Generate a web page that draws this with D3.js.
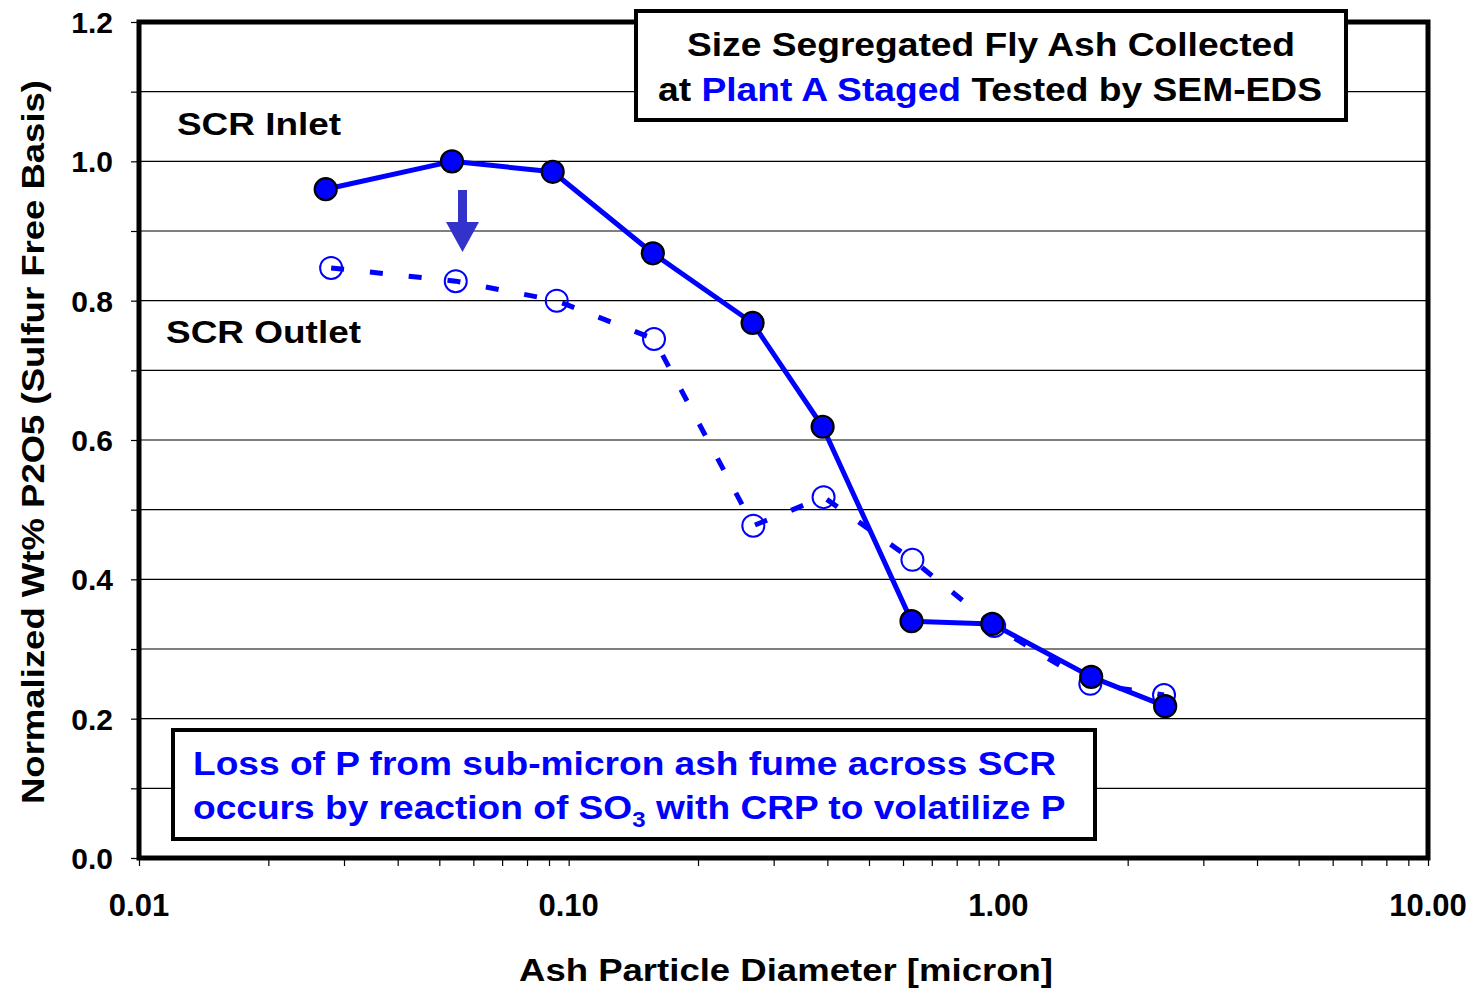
<!DOCTYPE html>
<html><head><meta charset="utf-8">
<script src="https://cdn.jsdelivr.net/npm/d3@7"></script>
<style>body{margin:0;background:#fff}svg{display:block}text{font-family:"Liberation Sans",Arial,sans-serif;font-weight:bold}</style>
</head><body>
<script>
const diameters = [0.0272, 0.0535, 0.0918, 0.157, 0.268, 0.390, 0.628, 0.968, 1.645, 2.445];
const inletValues = [0.960, 1.000, 0.985, 0.868, 0.768, 0.619, 0.340, 0.336, 0.260, 0.218];
const outletDiameters = [0.0280, 0.0546, 0.0938, 0.158, 0.269, 0.392, 0.631, 0.978, 1.637, 2.43];
const outletValues = [0.847, 0.828, 0.800, 0.745, 0.477, 0.518, 0.428, 0.333, 0.250, 0.234];
const yTickLabels = [0, 0.2, 0.4, 0.6, 0.8, 1.0, 1.2];
const xTickLabels = [0.01, 0.1, 1, 10];

const W = 1478, H = 989;
const m = {l:139, r:1428, t:22, b:858};
const svg = d3.select("body").append("svg").attr("width", W).attr("height", H);
const x = d3.scaleLog().domain([0.01, 10]).range([m.l, m.r]);
const y = d3.scaleLinear().domain([0, 1.2]).range([m.b, m.t]);

// gridlines every 0.1
const gridVals = d3.range(1, 12).map(i => i / 10);
svg.append("g").selectAll("line").data(gridVals).join("line")
  .attr("x1", m.l).attr("x2", m.r).attr("y1", d => y(d)).attr("y2", d => y(d))
  .attr("stroke", "#000").attr("stroke-width", 1.2);

// y axis ticks
const yAxis = d3.axisLeft(y).tickValues(d3.range(0, 13).map(i => i / 10)).tickSize(8).tickFormat("");
svg.append("g").attr("transform", `translate(${m.l},0)`).call(yAxis)
  .call(g => g.select(".domain").remove())
  .call(g => g.selectAll("line").attr("stroke", "#000").attr("stroke-width", 1.2));
svg.append("g").selectAll("text").data(yTickLabels).join("text")
  .attr("x", 113).attr("y", d => y(d) + 11).attr("text-anchor", "end")
  .attr("font-size", 30).text(d => d.toFixed(1));

// x axis ticks
const minorTicks = [];
for (let e = -2; e <= 0; e++) for (let k = 1; k <= 9; k++) minorTicks.push(k * Math.pow(10, e));
minorTicks.push(10);
const xAxis = d3.axisBottom(x).tickValues(minorTicks).tickSize(8).tickFormat("");
svg.append("g").attr("transform", `translate(0,${m.b})`).call(xAxis)
  .call(g => g.select(".domain").remove())
  .call(g => g.selectAll("line").attr("stroke", "#000").attr("stroke-width", 1.2));
svg.append("g").selectAll("text").data(xTickLabels).join("text")
  .attr("x", d => x(d)).attr("y", 916).attr("text-anchor", "middle")
  .attr("font-size", 31).text(d => d.toFixed(2));

// plot frame
svg.append("rect").attr("x", m.l).attr("y", m.t).attr("width", m.r - m.l).attr("height", m.b - m.t)
  .attr("fill", "none").attr("stroke", "#000").attr("stroke-width", 5);

// axis titles
svg.append("text").attr("transform", `translate(44,442) rotate(-90)`).attr("text-anchor", "middle")
  .attr("font-size", 31).attr("textLength", 724).attr("lengthAdjust", "spacingAndGlyphs")
  .text("Normalized Wt% P2O5 (Sulfur Free Basis)");
svg.append("text").attr("x", 786).attr("y", 981).attr("text-anchor", "middle")
  .attr("font-size", 32).attr("textLength", 534).attr("lengthAdjust", "spacingAndGlyphs")
  .text("Ash Particle Diameter [micron]");

// series labels
svg.append("text").attr("x", 177).attr("y", 135).attr("font-size", 32)
  .attr("textLength", 164).attr("lengthAdjust", "spacingAndGlyphs").text("SCR Inlet");
svg.append("text").attr("x", 166).attr("y", 343).attr("font-size", 32)
  .attr("textLength", 195).attr("lengthAdjust", "spacingAndGlyphs").text("SCR Outlet");

const blue = "#0000ff";
const outlet = outletDiameters.map((d, i) => [d, outletValues[i]]);
const inlet = diameters.map((d, i) => [d, inletValues[i]]);
const line = d3.line().x(d => x(d[0])).y(d => y(d[1]));

// outlet (dashed, open)
svg.append("path").datum(outlet).attr("d", line).attr("fill", "none")
  .attr("stroke", blue).attr("stroke-width", 5).attr("stroke-dasharray", "13,26");
svg.append("g").selectAll("circle").data(outlet).join("circle")
  .attr("cx", d => x(d[0])).attr("cy", d => y(d[1])).attr("r", 11)
  .attr("fill", "none").attr("stroke", blue).attr("stroke-width", 2);

// inlet (solid, filled)
svg.append("path").datum(inlet).attr("d", line).attr("fill", "none")
  .attr("stroke", blue).attr("stroke-width", 5).attr("stroke-linejoin", "round");
svg.append("g").selectAll("circle").data(inlet).join("circle")
  .attr("cx", d => x(d[0])).attr("cy", d => y(d[1])).attr("r", 11)
  .attr("fill", blue).attr("stroke", "#000").attr("stroke-width", 2.2);

// arrow
svg.append("path").attr("d", "M458,190 L467,190 L467,222 L479,222 L462.5,252 L446,222 L458,222 Z")
  .attr("fill", "#3333cc");

// title box
svg.append("rect").attr("x", 636).attr("y", 11).attr("width", 710).attr("height", 109)
  .attr("fill", "#fff").attr("stroke", "#000").attr("stroke-width", 4);
svg.append("text").attr("x", 991).attr("y", 56).attr("text-anchor", "middle").attr("font-size", 34)
  .attr("textLength", 608).attr("lengthAdjust", "spacingAndGlyphs").text("Size Segregated Fly Ash Collected");
const t2 = svg.append("text").attr("x", 990).attr("y", 101).attr("text-anchor", "middle").attr("font-size", 34)
  .attr("textLength", 664).attr("lengthAdjust", "spacingAndGlyphs");
t2.append("tspan").text("at ");
t2.append("tspan").attr("fill", blue).text("Plant A Staged");
t2.append("tspan").text(" Tested by SEM-EDS");

// note box
svg.append("rect").attr("x", 173).attr("y", 730).attr("width", 922).attr("height", 109)
  .attr("fill", "#fff").attr("stroke", "#000").attr("stroke-width", 4);
svg.append("text").attr("x", 193).attr("y", 775).attr("font-size", 34).attr("fill", blue)
  .attr("textLength", 863).attr("lengthAdjust", "spacingAndGlyphs")
  .text("Loss of P from sub-micron ash fume across SCR");
const t3 = svg.append("text").attr("x", 193).attr("y", 819).attr("font-size", 34).attr("fill", blue);
t3.append("tspan").text("occurs by reaction of SO");
t3.append("tspan").attr("font-size", 22).attr("dy", 8).text("3");
t3.append("tspan").attr("dy", -8).text(" with CRP to volatilize P");
// fit second line width
const len = t3.node().getComputedTextLength();
const target = 873;
t3.attr("transform", `translate(193,819) scale(${target/len},1) translate(-193,-819)`);
</script>
</body></html>
